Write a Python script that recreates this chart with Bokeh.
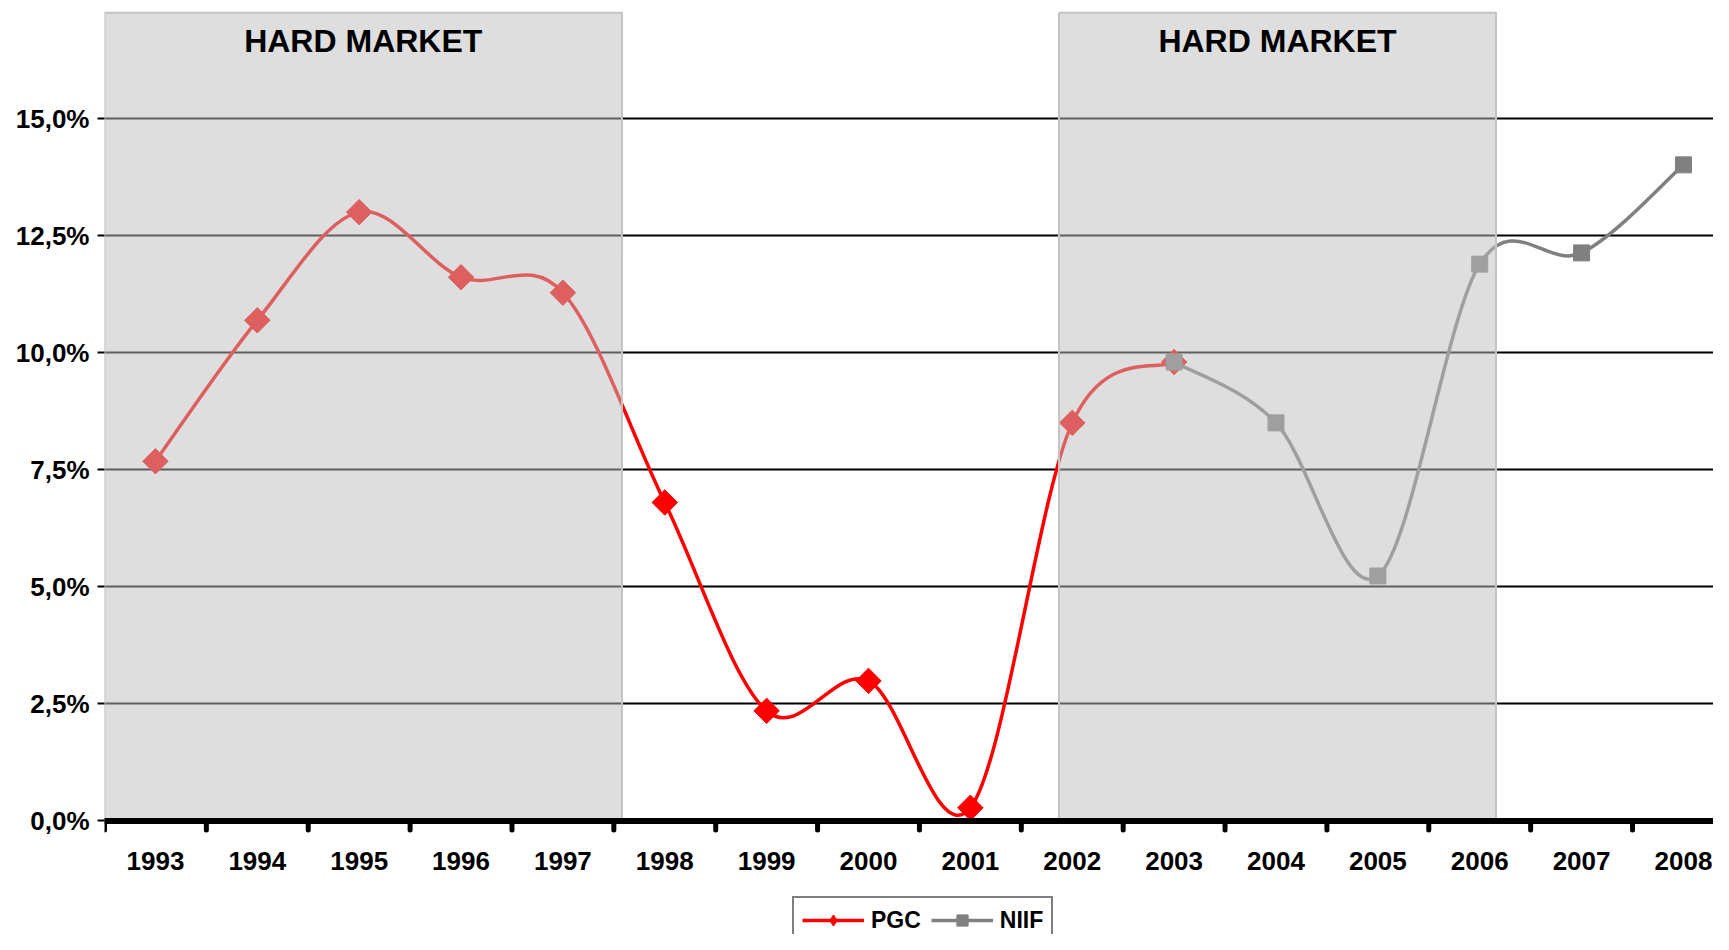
import numpy as np
from bokeh.plotting import figure
from bokeh.models import FixedTicker, Legend, LegendItem, ColumnDataSource, Range1d, Span
from bokeh.core.properties import value
from bokeh.embed import file_html
from bokeh.resources import INLINE

# ---- data ----
years = [1993, 1994, 1995, 1996, 1997, 1998, 1999, 2000, 2001, 2002, 2003, 2004, 2005, 2006, 2007, 2008]
pgc_years = [1993, 1994, 1995, 1996, 1997, 1998, 1999, 2000, 2001, 2002, 2003]
pgc_values = [7.68, 10.69, 13.0, 11.61, 11.28, 6.80, 2.35, 2.99, 0.28, 8.50, 9.80]
niif_years = [2003, 2004, 2005, 2006, 2007, 2008]
niif_values = [9.80, 8.50, 5.23, 11.89, 12.13, 14.01]
y_ticks = [0, 2.5, 5, 7.5, 10, 12.5, 15]
hard_start = [1992.5, 2001.87]
hard_end = [1997.58, 2006.16]
hard_top = [17.26, 17.26]
hard_label = ["HARD MARKET", "HARD MARKET"]
hard_label_y = [16.65, 16.65]

FONT = "Liberation Sans"
RED = "#FF0000"
GRAY = "#808080"


def smooth_segments(xs, ys):
    """Excel-like smoothed line: cubic Bezier control points (Catmull-Rom)."""
    x = np.asarray(xs, float)
    y = np.asarray(ys, float)
    n = len(x)
    xp = np.concatenate([[x[0]], x, [x[-1]]])
    yp = np.concatenate([[y[0]], y, [y[-1]]])
    P0x, P1x, P2x, P3x = xp[0:n - 1], xp[1:n], xp[2:n + 1], xp[3:n + 2]
    P0y, P1y, P2y, P3y = yp[0:n - 1], yp[1:n], yp[2:n + 1], yp[3:n + 2]
    return dict(
        x0=P1x, y0=P1y, x1=P2x, y1=P2y,
        cx0=P1x + (P2x - P0x) / 6, cy0=P1y + (P2y - P0y) / 6,
        cx1=P2x - (P3x - P1x) / 6, cy1=P2y - (P3y - P1y) / 6,
    )


p = figure(width=1713, height=934,
           x_range=Range1d(1992.5, 2008.295), y_range=Range1d(-2.426, 17.52),
           output_backend="svg", toolbar_location=None, x_axis_location=None,
           min_border_left=104, min_border_right=0, min_border_top=0, min_border_bottom=0)
p.outline_line_color = None
p.background_fill_color = "white"
p.border_fill_color = "white"

# grid
p.xgrid.visible = False
p.ygrid.ticker = FixedTicker(ticks=y_ticks)
p.ygrid.grid_line_color = "black"
p.ygrid.grid_line_width = 2

# y axis
p.yaxis.ticker = FixedTicker(ticks=y_ticks)
p.yaxis.major_label_overrides = {t: ("%.1f%%" % t).replace(".", ",") for t in y_ticks}
p.yaxis.axis_line_color = None
p.yaxis.major_tick_out = 7
p.yaxis.major_tick_in = 0
p.yaxis.major_tick_line_width = 2
p.yaxis.minor_tick_line_color = None
p.yaxis.major_label_standoff = 8
p.yaxis.major_label_text_font = FONT
p.yaxis.major_label_text_font_style = "bold"
p.yaxis.major_label_text_font_size = "26px"
p.yaxis.major_label_text_color = "black"

# series
pgc_curve = p.bezier(source=ColumnDataSource(smooth_segments(pgc_years, pgc_values)),
                     x0="x0", y0="y0", x1="x1", y1="y1", cx0="cx0", cy0="cy0", cx1="cx1", cy1="cy1",
                     line_color=RED, line_width=3.5)
pgc_marks = p.scatter(pgc_years, pgc_values, marker="square", angle=np.pi / 4, size=18,
                      fill_color=RED, line_color=RED, line_width=1)
niif_curve = p.bezier(source=ColumnDataSource(smooth_segments(niif_years, niif_values)),
                      x0="x0", y0="y0", x1="x1", y1="y1", cx0="cx0", cy0="cy0", cx1="cx1", cy1="cy1",
                      line_color=GRAY, line_width=3.5)
niif_marks = p.scatter(niif_years, niif_values, marker="square", size=16,
                       fill_color=GRAY, line_color=GRAY)

# legend-only marker glyphs (size 0 on the plot; the legend sizes its own glyph)
pgc_key = p.scatter(pgc_years, pgc_values, marker="diamond", size=0,
                    fill_color=RED, line_color=RED)
niif_key = p.scatter(niif_years, niif_values, marker="square", size=0,
                     fill_color=GRAY, line_color=GRAY)

# hard market overlays (semi-transparent, on top of series)
p.quad(left=hard_start, right=hard_end, bottom=[0, 0], top=hard_top,
       fill_color="#BEBEBE", fill_alpha=0.5, line_color="#C4C4C4", line_width=2)
p.text(x=[(a + b) / 2 for a, b in zip(hard_start, hard_end)], y=hard_label_y, text=hard_label,
       text_font=value(FONT), text_font_style="bold", text_font_size="32px",
       text_align="center", text_baseline="middle", text_color="black")

# x axis (category style: ticks between years, labels under each year)
boundaries = [yr - 0.5 for yr in years] + [years[-1] + 0.5]
p.ray(x=boundaries, y=[0] * len(boundaries), length=9, length_units="screen",
      angle=-np.pi / 2, line_color="black", line_width=5, line_cap="round")
p.add_layout(Span(location=0, dimension="width", line_color="black", line_width=6))
p.text(x=years, y=[0] * len(years), text=[str(yr) for yr in years], y_offset=40,
       text_font=value(FONT), text_font_style="bold", text_font_size="26px",
       text_align="center", text_baseline="middle", text_color="black")

legend = Legend(items=[LegendItem(label="PGC", renderers=[pgc_curve, pgc_key]),
                       LegendItem(label="NIIF", renderers=[niif_curve, niif_key])],
                orientation="horizontal", location=(688, -10),
                label_text_font=FONT, label_text_font_style="bold", label_text_font_size="23px",
                label_text_color="black",
                glyph_width=62, glyph_height=28, label_standoff=7, spacing=10, padding=8,
                border_line_color="black", border_line_width=2, background_fill_alpha=1.0,
                margin=0)
p.add_layout(legend)

open("out.html", "w").write(file_html(p, INLINE))
